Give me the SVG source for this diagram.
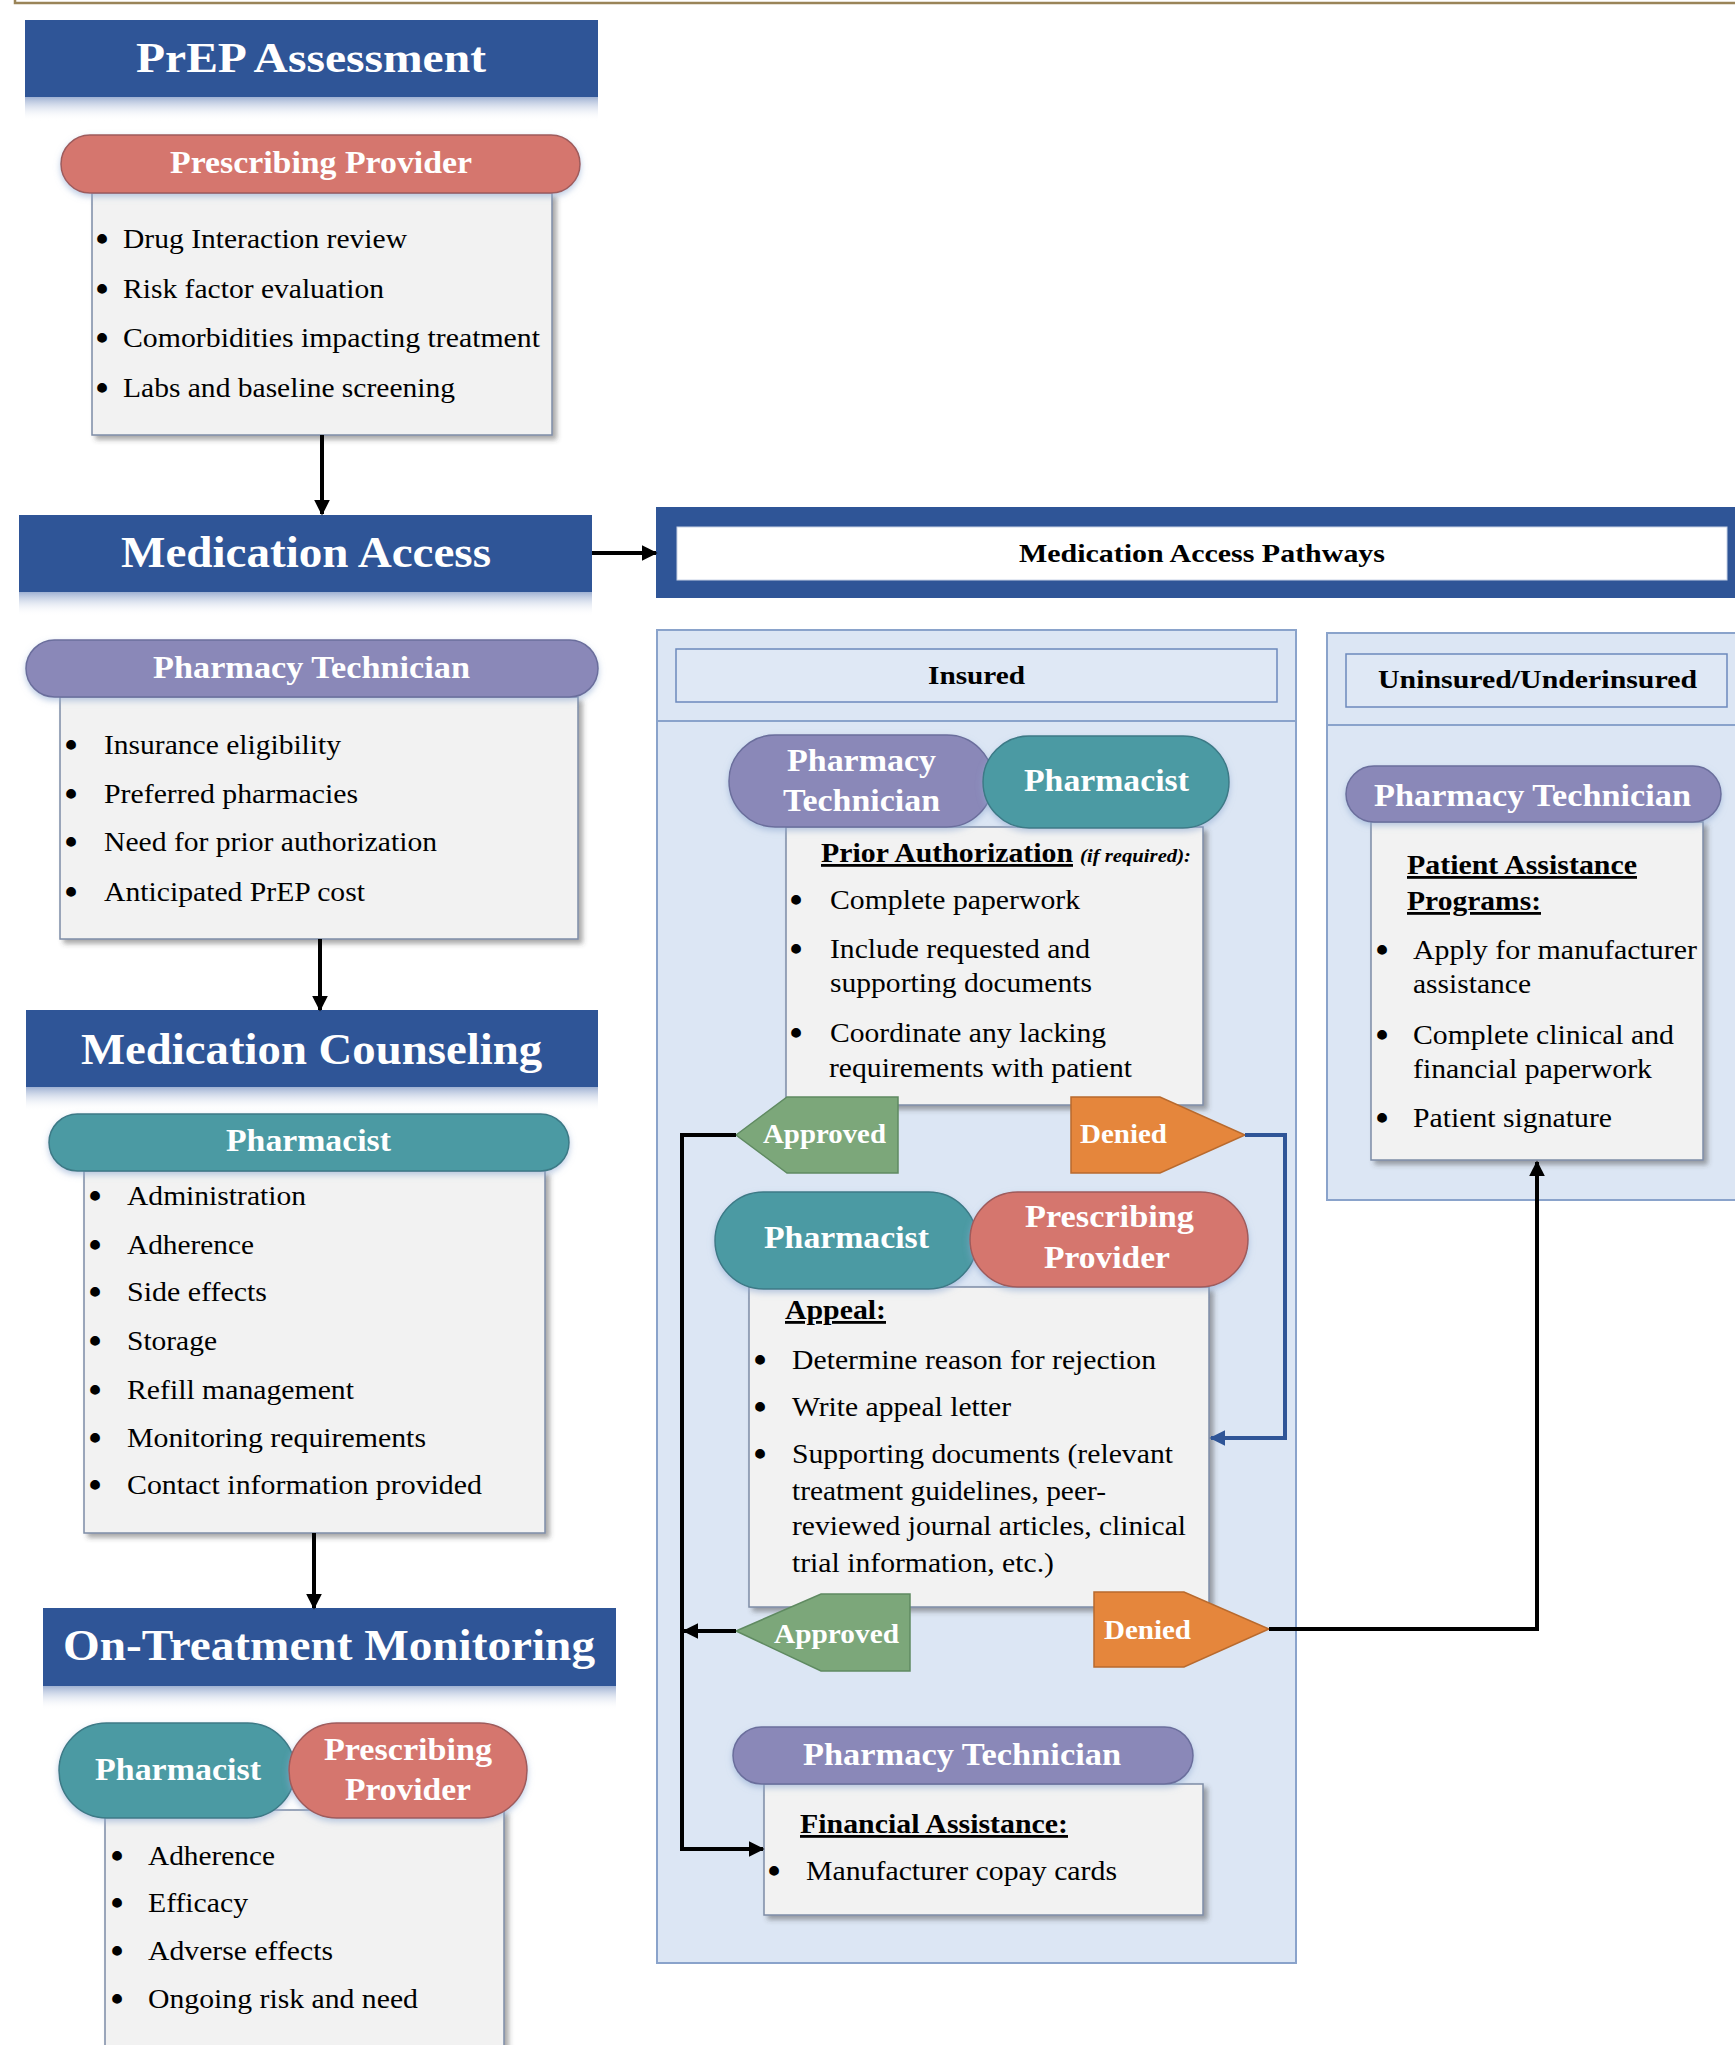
<svg xmlns="http://www.w3.org/2000/svg" width="1735" height="2045" viewBox="0 0 1735 2045">
<defs>
<style>
.ban{fill:#2F5597}
.banT{font-family:"Liberation Serif",serif;font-weight:bold;fill:#fff}
.refl{fill:url(#refl)}
.box{fill:#F2F2F2;stroke:#7D8CA6;stroke-width:1.5;filter:url(#sh)}
.b{font-family:"Liberation Serif",serif;font-size:28px;fill:#000}
.bul{font-family:"Liberation Serif",serif;font-size:36px;font-weight:bold;fill:#000;text-anchor:middle}
.pt{font-family:"Liberation Serif",serif;font-weight:bold;font-size:31px;fill:#fff}
.sal{fill:#D5766E;stroke:#9E5B5B;stroke-width:1.5;filter:url(#glow)}
.lav{fill:#8A88B8;stroke:#6B6E9C;stroke-width:1.5;filter:url(#glow)}
.teal{fill:#4B9AA3;stroke:#3C7A86;stroke-width:1.5;filter:url(#glow)}
.cnt{fill:#DCE6F4;stroke:#8AA3CB;stroke-width:2}
.lbl{fill:#DFE8F5;stroke:#6C89BC;stroke-width:1.5}
.lblT{font-family:"Liberation Serif",serif;font-weight:bold;fill:#000}
.hd{font-family:"Liberation Serif",serif;font-weight:bold;font-size:28px;fill:#000;text-decoration:underline}
.appr{fill:#7CA77A;stroke:#5F8A61;stroke-width:1.5}
.den{fill:#E5863C;stroke:#B86A2E;stroke-width:1.5}
.st{font-family:"Liberation Serif",serif;font-weight:bold;font-size:27px;fill:#fff}
.con{fill:none;stroke:#000;stroke-width:4}
.conB{fill:none;stroke:#2F5597;stroke-width:4}
</style>
<linearGradient id="refl" x1="0" y1="0" x2="0" y2="1">
<stop offset="0" stop-color="#7F97C4" stop-opacity="0.75"/>
<stop offset="1" stop-color="#FFFFFF" stop-opacity="0"/>
</linearGradient>
<filter id="sh" x="-5%" y="-5%" width="115%" height="115%">
<feDropShadow dx="4" dy="4" stdDeviation="2.5" flood-color="#404040" flood-opacity="0.45"/>
</filter>
<filter id="glow" x="-10%" y="-20%" width="120%" height="145%">
<feDropShadow dx="0" dy="3" stdDeviation="3" flood-color="#8FA9D0" flood-opacity="0.6"/>
</filter>
<marker id="ah" viewBox="0 0 10 10" refX="9" refY="5" markerWidth="16" markerHeight="16" markerUnits="userSpaceOnUse" orient="auto">
<path d="M0,0 L10,5 L0,10 z" fill="#000"/>
</marker>
<marker id="ahB" viewBox="0 0 10 10" refX="9" refY="5" markerWidth="16" markerHeight="16" markerUnits="userSpaceOnUse" orient="auto">
<path d="M0,0 L10,5 L0,10 z" fill="#2F5597"/>
</marker>
</defs>
<rect x="0" y="0" width="1735" height="2045" fill="#fff"/>
<path d="M15,0 V3 H1735" fill="none" stroke="#9A8458" stroke-width="2.5"/>

<!-- Left column -->
<g id="prep-assessment">
<rect class="ban" x="25" y="20" width="573" height="77"/>
<rect class="refl" x="25" y="97" width="573" height="24"/>
<text class="banT" x="136" y="72" font-size="42" textLength="350" lengthAdjust="spacingAndGlyphs">PrEP Assessment</text>
</g>
<g id="prep-provider-box">
<rect class="box" x="92" y="193" width="460" height="242"/>
<text class="bul" x="102" y="251">•</text><text class="b" x="123" y="248" textLength="284" lengthAdjust="spacingAndGlyphs">Drug Interaction review</text>
<text class="bul" x="102" y="301">•</text><text class="b" x="123" y="298" textLength="261" lengthAdjust="spacingAndGlyphs">Risk factor evaluation</text>
<text class="bul" x="102" y="350">•</text><text class="b" x="123" y="347" textLength="417" lengthAdjust="spacingAndGlyphs">Comorbidities impacting treatment</text>
<text class="bul" x="102" y="400">•</text><text class="b" x="123" y="397" textLength="332" lengthAdjust="spacingAndGlyphs">Labs and baseline screening</text>
</g>
<g id="prep-provider-pill">
<rect class="sal" x="61" y="135" width="519" height="58" rx="29"/>
<text class="pt" x="170" y="173" textLength="302" lengthAdjust="spacingAndGlyphs">Prescribing Provider</text>
</g>

<g id="medication-access">
<rect class="ban" x="19" y="515" width="573" height="77"/>
<rect class="refl" x="19" y="592" width="573" height="24"/>
<text class="banT" x="121" y="567" font-size="44" textLength="370" lengthAdjust="spacingAndGlyphs">Medication Access</text>
</g>
<g id="access-tech-box">
<rect class="box" x="60" y="697" width="518" height="242"/>
<text class="bul" x="71" y="757">•</text><text class="b" x="104" y="754" textLength="237" lengthAdjust="spacingAndGlyphs">Insurance eligibility</text>
<text class="bul" x="71" y="806">•</text><text class="b" x="104" y="803" textLength="254" lengthAdjust="spacingAndGlyphs">Preferred pharmacies</text>
<text class="bul" x="71" y="854">•</text><text class="b" x="104" y="851" textLength="333" lengthAdjust="spacingAndGlyphs">Need for prior authorization</text>
<text class="bul" x="71" y="904">•</text><text class="b" x="104" y="901" textLength="261" lengthAdjust="spacingAndGlyphs">Anticipated PrEP cost</text>
</g>
<g id="access-tech-pill">
<rect class="lav" x="26" y="640" width="572" height="57" rx="28.5"/>
<text class="pt" x="153" y="678" textLength="317" lengthAdjust="spacingAndGlyphs">Pharmacy Technician</text>
</g>

<g id="medication-counseling">
<rect class="ban" x="26" y="1010" width="572" height="77"/>
<rect class="refl" x="26" y="1087" width="572" height="24"/>
<text class="banT" x="81" y="1064" font-size="44" textLength="461" lengthAdjust="spacingAndGlyphs">Medication Counseling</text>
</g>
<g id="counseling-box">
<rect class="box" x="84" y="1171" width="461" height="362"/>
<text class="bul" x="95" y="1208">•</text><text class="b" x="127" y="1205" textLength="179" lengthAdjust="spacingAndGlyphs">Administration</text>
<text class="bul" x="95" y="1257">•</text><text class="b" x="127" y="1254" textLength="127" lengthAdjust="spacingAndGlyphs">Adherence</text>
<text class="bul" x="95" y="1304">•</text><text class="b" x="127" y="1301" textLength="140" lengthAdjust="spacingAndGlyphs">Side effects</text>
<text class="bul" x="95" y="1353">•</text><text class="b" x="127" y="1350" textLength="90" lengthAdjust="spacingAndGlyphs">Storage</text>
<text class="bul" x="95" y="1402">•</text><text class="b" x="127" y="1399" textLength="227" lengthAdjust="spacingAndGlyphs">Refill management</text>
<text class="bul" x="95" y="1450">•</text><text class="b" x="127" y="1447" textLength="299" lengthAdjust="spacingAndGlyphs">Monitoring requirements</text>
<text class="bul" x="95" y="1497">•</text><text class="b" x="127" y="1494" textLength="355" lengthAdjust="spacingAndGlyphs">Contact information provided</text>
</g>
<g id="counseling-pill">
<rect class="teal" x="49" y="1114" width="520" height="57" rx="28.5"/>
<text class="pt" x="226" y="1151" textLength="165" lengthAdjust="spacingAndGlyphs">Pharmacist</text>
</g>

<g id="on-treatment-monitoring">
<rect class="ban" x="43" y="1608" width="573" height="78"/>
<rect class="refl" x="43" y="1686" width="573" height="24"/>
<text class="banT" x="63" y="1660" font-size="45" textLength="532" lengthAdjust="spacingAndGlyphs">On-Treatment Monitoring</text>
</g>
<g id="monitoring-box">
<rect class="box" x="105" y="1810" width="399" height="260"/>
<text class="bul" x="117" y="1868">•</text><text class="b" x="148" y="1865" textLength="127" lengthAdjust="spacingAndGlyphs">Adherence</text>
<text class="bul" x="117" y="1915">•</text><text class="b" x="148" y="1912" textLength="100" lengthAdjust="spacingAndGlyphs">Efficacy</text>
<text class="bul" x="117" y="1963">•</text><text class="b" x="148" y="1960" textLength="185" lengthAdjust="spacingAndGlyphs">Adverse effects</text>
<text class="bul" x="117" y="2011">•</text><text class="b" x="148" y="2008" textLength="270" lengthAdjust="spacingAndGlyphs">Ongoing risk and need</text>
</g>
<g id="monitoring-pharmacist">
<rect class="teal" x="59" y="1723" width="236" height="95" rx="47.5"/>
<text class="pt" x="95" y="1780" textLength="166" lengthAdjust="spacingAndGlyphs">Pharmacist</text>
</g>
<g id="monitoring-provider">
<rect class="sal" x="289" y="1723" width="238" height="95" rx="47.5"/>
<text class="pt" x="324" y="1760" textLength="168" lengthAdjust="spacingAndGlyphs">Prescribing</text>
<text class="pt" x="345" y="1800" textLength="126" lengthAdjust="spacingAndGlyphs">Provider</text>
</g>

<!-- Right side -->
<g id="pathways-header">
<rect x="656" y="507" width="1090" height="91" fill="#2F5597"/>
<rect x="677" y="527" width="1050" height="53" fill="#fff" stroke="#C9D3E6" stroke-width="1"/>
<text class="lblT" x="1019" y="562" font-size="25" textLength="366" lengthAdjust="spacingAndGlyphs">Medication Access Pathways</text>
</g>

<g id="insured-container">
<rect class="cnt" x="657" y="630" width="639" height="1333"/>
<line x1="657" y1="721" x2="1296" y2="721" stroke="#8AA3CB" stroke-width="2"/>
<rect class="lbl" x="676" y="649" width="601" height="53"/>
<text class="lblT" x="928" y="684" font-size="26" textLength="97" lengthAdjust="spacingAndGlyphs">Insured</text>
</g>

<g id="uninsured-container">
<rect class="cnt" x="1327" y="633" width="420" height="567"/>
<line x1="1327" y1="725" x2="1735" y2="725" stroke="#8AA3CB" stroke-width="2"/>
<rect class="lbl" x="1346" y="654" width="381" height="53"/>
<text class="lblT" x="1378" y="688" font-size="26" textLength="319" lengthAdjust="spacingAndGlyphs">Uninsured/Underinsured</text>
</g>

<g id="prior-auth-box">
<rect class="box" x="786" y="827" width="417" height="278"/>
<text class="hd" x="821" y="862" textLength="252" lengthAdjust="spacingAndGlyphs">Prior Authorization</text>
<text x="1080" y="862" font-family="Liberation Serif, serif" font-weight="bold" font-style="italic" font-size="18" textLength="111" lengthAdjust="spacingAndGlyphs">(if required):</text>
<text class="bul" x="796" y="912">•</text><text class="b" x="830" y="909" textLength="250" lengthAdjust="spacingAndGlyphs">Complete paperwork</text>
<text class="bul" x="796" y="961">•</text><text class="b" x="830" y="958" textLength="260" lengthAdjust="spacingAndGlyphs">Include requested and</text>
<text class="b" x="830" y="992" textLength="262" lengthAdjust="spacingAndGlyphs">supporting documents</text>
<text class="bul" x="796" y="1045">•</text><text class="b" x="830" y="1042" textLength="276" lengthAdjust="spacingAndGlyphs">Coordinate any lacking</text>
<text class="b" x="829" y="1077" textLength="303" lengthAdjust="spacingAndGlyphs">requirements with patient</text>
</g>
<g id="prior-auth-tech">
<rect class="lav" x="729" y="735" width="264" height="92" rx="46"/>
<text class="pt" x="787" y="771" textLength="149" lengthAdjust="spacingAndGlyphs">Pharmacy</text>
<text class="pt" x="783" y="811" textLength="157" lengthAdjust="spacingAndGlyphs">Technician</text>
</g>
<g id="prior-auth-pharmacist">
<rect class="teal" x="983" y="736" width="246" height="92" rx="46"/>
<text class="pt" x="1024" y="791" textLength="165" lengthAdjust="spacingAndGlyphs">Pharmacist</text>
</g>

<g id="approved-1">
<polygon class="appr" points="736,1135 787,1097 898,1097 898,1173 787,1173"/>
<text class="st" x="763" y="1143" textLength="123" lengthAdjust="spacingAndGlyphs">Approved</text>
</g>
<g id="denied-1">
<polygon class="den" points="1071,1097 1160,1097 1245,1135 1160,1173 1071,1173"/>
<text class="st" x="1080" y="1143" textLength="87" lengthAdjust="spacingAndGlyphs">Denied</text>
</g>

<g id="appeal-box">
<rect class="box" x="749" y="1287" width="460" height="320"/>
<text class="hd" x="785" y="1319" textLength="101" lengthAdjust="spacingAndGlyphs">Appeal:</text>
<text class="bul" x="760" y="1372">•</text><text class="b" x="792" y="1369" textLength="364" lengthAdjust="spacingAndGlyphs">Determine reason for rejection</text>
<text class="bul" x="760" y="1419">•</text><text class="b" x="792" y="1416" textLength="219" lengthAdjust="spacingAndGlyphs">Write appeal letter</text>
<text class="bul" x="760" y="1466">•</text><text class="b" x="792" y="1463" textLength="381" lengthAdjust="spacingAndGlyphs">Supporting documents (relevant</text>
<text class="b" x="792" y="1500" textLength="314" lengthAdjust="spacingAndGlyphs">treatment guidelines, peer-</text>
<text class="b" x="792" y="1535" textLength="394" lengthAdjust="spacingAndGlyphs">reviewed journal articles, clinical</text>
<text class="b" x="792" y="1572" textLength="262" lengthAdjust="spacingAndGlyphs">trial information, etc.)</text>
</g>
<g id="appeal-pharmacist">
<rect class="teal" x="715" y="1192" width="262" height="97" rx="48.5"/>
<text class="pt" x="764" y="1248" textLength="165" lengthAdjust="spacingAndGlyphs">Pharmacist</text>
</g>
<g id="appeal-provider">
<rect class="sal" x="970" y="1192" width="278" height="95" rx="47.5"/>
<text class="pt" x="1025" y="1227" textLength="169" lengthAdjust="spacingAndGlyphs">Prescribing</text>
<text class="pt" x="1044" y="1268" textLength="126" lengthAdjust="spacingAndGlyphs">Provider</text>
</g>

<g id="approved-2">
<polygon class="appr" points="736,1631 821,1594 910,1594 910,1671 821,1671"/>
<text class="st" x="774" y="1643" textLength="125" lengthAdjust="spacingAndGlyphs">Approved</text>
</g>
<g id="denied-2">
<polygon class="den" points="1094,1592 1184,1592 1269,1629 1184,1667 1094,1667"/>
<text class="st" x="1104" y="1639" textLength="87" lengthAdjust="spacingAndGlyphs">Denied</text>
</g>

<g id="financial-box">
<rect class="box" x="764" y="1784" width="439" height="131"/>
<text class="hd" x="800" y="1833" textLength="268" lengthAdjust="spacingAndGlyphs">Financial Assistance:</text>
<text class="bul" x="774" y="1883">•</text><text class="b" x="806" y="1880" textLength="311" lengthAdjust="spacingAndGlyphs">Manufacturer copay cards</text>
</g>
<g id="financial-tech">
<rect class="lav" x="733" y="1727" width="460" height="57" rx="28.5"/>
<text class="pt" x="803" y="1765" textLength="318" lengthAdjust="spacingAndGlyphs">Pharmacy Technician</text>
</g>

<g id="pap-box">
<rect class="box" x="1371" y="822" width="332" height="338"/>
<text class="hd" x="1407" y="874" textLength="230" lengthAdjust="spacingAndGlyphs">Patient Assistance</text>
<text class="hd" x="1407" y="910" textLength="134" lengthAdjust="spacingAndGlyphs">Programs:</text>
<text class="bul" x="1382" y="962">•</text><text class="b" x="1413" y="959" textLength="284" lengthAdjust="spacingAndGlyphs">Apply for manufacturer</text>
<text class="b" x="1413" y="993" textLength="118" lengthAdjust="spacingAndGlyphs">assistance</text>
<text class="bul" x="1382" y="1047">•</text><text class="b" x="1413" y="1044" textLength="261" lengthAdjust="spacingAndGlyphs">Complete clinical and</text>
<text class="b" x="1413" y="1078" textLength="239" lengthAdjust="spacingAndGlyphs">financial paperwork</text>
<text class="bul" x="1382" y="1130">•</text><text class="b" x="1413" y="1127" textLength="199" lengthAdjust="spacingAndGlyphs">Patient signature</text>
</g>
<g id="pap-tech">
<rect class="lav" x="1346" y="766" width="375" height="56" rx="28"/>
<text class="pt" x="1374" y="806" textLength="317" lengthAdjust="spacingAndGlyphs">Pharmacy Technician</text>
</g>

<g id="connectors">
<line class="con" x1="322" y1="435" x2="322" y2="514" marker-end="url(#ah)"/>
<line class="con" x1="320" y1="939" x2="320" y2="1010" marker-end="url(#ah)"/>
<line class="con" x1="314" y1="1533" x2="314" y2="1608" marker-end="url(#ah)"/>
<line class="con" x1="592" y1="553" x2="656" y2="553" marker-end="url(#ah)"/>
<path class="con" d="M736,1135 H682 V1849 H763" marker-end="url(#ah)"/>
<path class="con" d="M736,1631 H684" marker-end="url(#ah)"/>
<path class="conB" d="M1245,1135 H1285 V1438 H1211" marker-end="url(#ahB)"/>
<path class="con" d="M1269,1629 H1537 V1162" marker-end="url(#ah)"/>
</g>
</svg>
